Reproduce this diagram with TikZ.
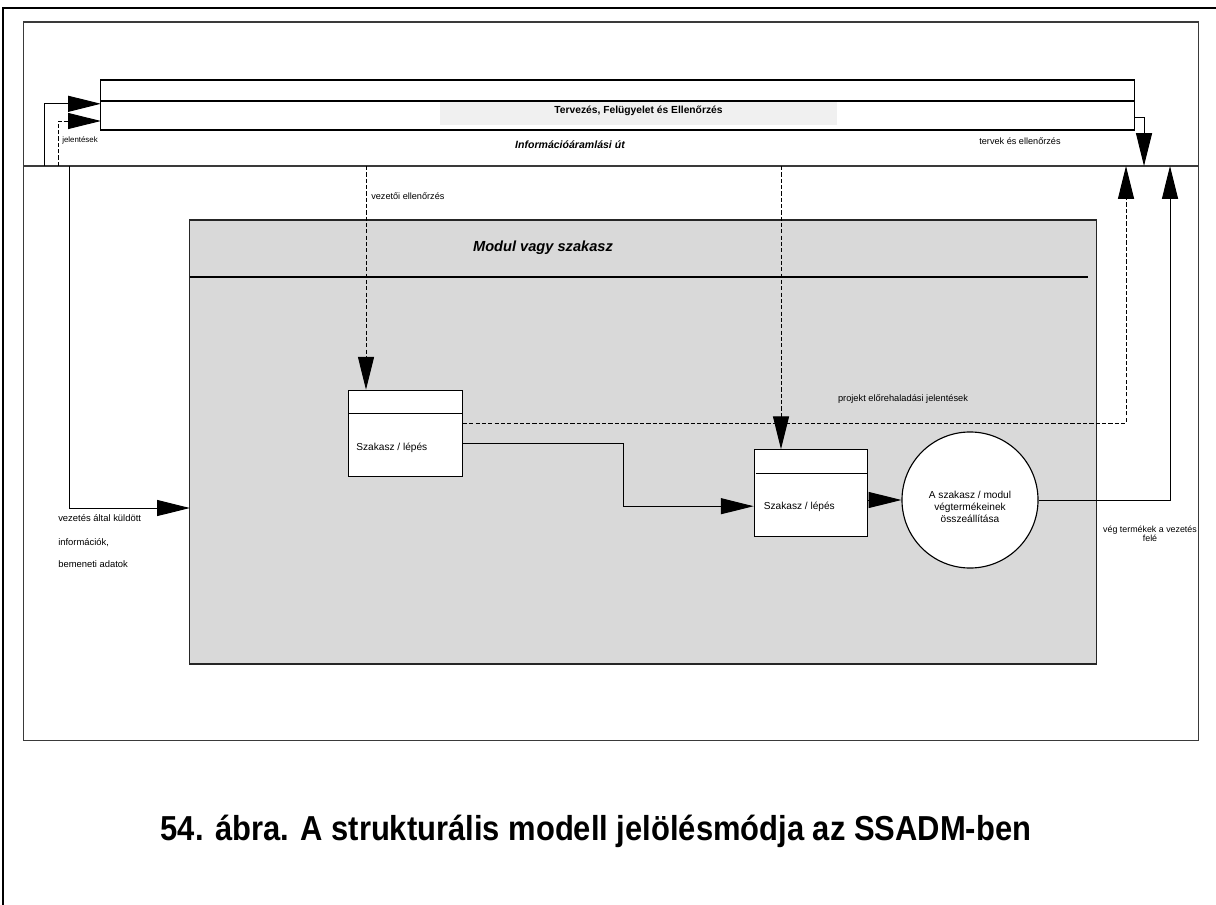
\documentclass[tikz,border=0pt]{standalone}
\usepackage{fontspec}
\setmainfont{Liberation Sans}
\definecolor{modulegray}{HTML}{D9D9D9}
\definecolor{bandgray}{HTML}{F0F0F0}
\definecolor{linegray}{HTML}{3A3A3A}
\usetikzlibrary{arrows.meta, positioning, calc}

\begin{document}
\begin{tikzpicture}[
    x=0.025cm, y=-0.025cm,
    frame/.style={
        rectangle,
        draw=linegray,
        line width=0.8pt,
        inner sep=0pt,
        outer sep=0pt,
    },
    stepbox/.style={
        rectangle,
        draw=black,
        fill=white,
        line width=0.8pt,
        minimum width=2.84cm,
        minimum height=2.16cm,
        inner sep=0pt,
    },
    endprod/.style={
        circle,
        draw=black,
        fill=white,
        line width=0.8pt,
        minimum size=3.4cm,
        inner sep=0pt,
    },
    steplbl/.style={anchor=west, inner sep=0pt, font=\fontsize{7.2}{8.5}\selectfont},
    lbl/.style={inner sep=0pt, font=\fontsize{6.5}{6.5}\selectfont},
    leftlbl/.style={anchor=west, inner sep=0pt, font=\fontsize{6.7}{8}\selectfont},
    divider/.style={line width=0.8pt},
    arr/.style={-{Triangle[length=0.82cm, width=0.4cm]}, line width=0.7pt},
    dasharr/.style={arr, dash pattern=on 3pt off 1.5pt},
]

\clip (0,0) rectangle (1216,905);
\draw[line width=1.5pt] (3,910) -- (3,8) -- (1220,8);

% information path and the area below it
\node[frame, minimum width=29.35cm, minimum height=3.6cm] (infoband) at (611,94) {};
\node[frame, minimum width=29.35cm, minimum height=14.35cm] (stagearea) at (611,453) {};

% planning box
\node[frame, draw=black, fill=white, minimum width=25.825cm, minimum height=1.25cm] (plan) at (617.5,105) {};
\node[fill=bandgray, inner sep=0pt, minimum width=9.925cm, minimum height=0.6cm] (band) at (638.5,113) {};
\draw[divider] ($(plan.north west)+(0,21)$) -- ($(plan.north east)+(0,21)$);
\node[inner sep=0pt, below=0.13cm of band.north, font=\fontsize{7.3}{8}\selectfont\bfseries] (planlbl)
    {Tervezés, Felügyelet és Ellenőrzés};
\node[font=\fontsize{7.5}{9}\selectfont\bfseries\itshape] (infolbl) at (570,145) {Információáramlási út};

% module
\node[frame, draw=black!85, fill=modulegray, minimum width=22.65cm, minimum height=11.1cm] (module) at (643,442) {};
\draw[divider] ($(module.north west)+(0,57)$) -- ++(898,0);
\node[font=\fontsize{10.4}{12}\selectfont\bfseries\itshape] (modtitle) at (543,248) {Modul vagy szakasz};

\node[stepbox] (step1) at (405.5,433.5) {};
\draw[divider] ($(step1.north west)+(0,24)$) -- ($(step1.north east)+(0,24)$);
\node[steplbl] (step1txt) at ($(step1.west)+(8,14)$) {Szakasz / lépés};

\node[stepbox] (step2) at (811,493) {};
\draw[divider] ($(step2.north west)+(2,24)$) -- ($(step2.north east)+(0,24)$);
\node[steplbl] (step2txt) at ($(step2.west)+(10,14)$) {Szakasz / lépés};

\node[endprod] (final) at (970,500) {};
\node[align=center, inner sep=0pt, font=\fontsize{7.2}{8.5}\selectfont] (finaltxt) at ($(final.center)+(0,7)$)
    {A szakasz / modul\\végtermékeinek\\összeállítása};

% free ends on the information path
\coordinate (repin) at (44,166);
\coordinate (repin2) at (58,166);
\coordinate (mgmtin) at (69,166);
\coordinate (ctrlin) at (366,166);
\coordinate (ctrlin2) at (781,166);
\coordinate (progout) at (1126,166);
\coordinate (planout) at (1144,166);
\coordinate (prodout) at (1170,166);

\draw[arr] (repin) |- ([yshift=0.03cm]plan.west);
\draw[dasharr] (repin2) |- ([yshift=-0.4cm]plan.west);
\draw[arr] (mgmtin) |- ([yshift=-1.65cm]module.west);
\draw[dasharr] (ctrlin) -- (ctrlin |- step1.north);
\draw[dasharr] (ctrlin2) -- (ctrlin2 |- step2.north);
\draw[dasharr] ([yshift=0.26cm]step1.east) -| (progout);
\draw[arr] ([yshift=-0.24cm]step1.east) -- ++(161,0) |- ([yshift=-0.33cm]step2.west);
\draw[arr] (step2.east |- final.west) -- (final.west);
\draw[arr] (final.east) -| (prodout);
\draw[arr] ([yshift=-0.3cm]plan.east) -| (planout);

% flow labels
\node[lbl, anchor=west, font=\fontsize{5.6}{6}\selectfont] (replbl) at (62,140) {jelentések};
\node[lbl] (planoutlbl) at (1020,141) {tervek és ellenőrzés};
\node[lbl, anchor=west] (ctrllbl) at (371,196) {vezetői ellenőrzés};
\node[lbl, font=\fontsize{6.6}{7}\selectfont] (proglbl) at (903,399) {projekt előrehaladási jelentések};
\node[lbl, align=center, font=\fontsize{6.3}{6.3}\selectfont] (prodlbl) at (1150,534) {vég termékek a vezetés\\felé};
\node[leftlbl] (mgmtlbl1) at (58,518) {vezetés által küldött};
\node[leftlbl] (mgmtlbl2) at (58,543) {információk,};
\node[leftlbl] (mgmtlbl3) at (58,564) {bemeneti adatok};

\node[font=\fontsize{22}{26}\selectfont\bfseries] (caption) at (596,831)
    {\scalebox{1}[1.12]{54. ábra. A strukturális modell jelölésmódja az SSADM-ben}};

\end{tikzpicture}
\end{document}
